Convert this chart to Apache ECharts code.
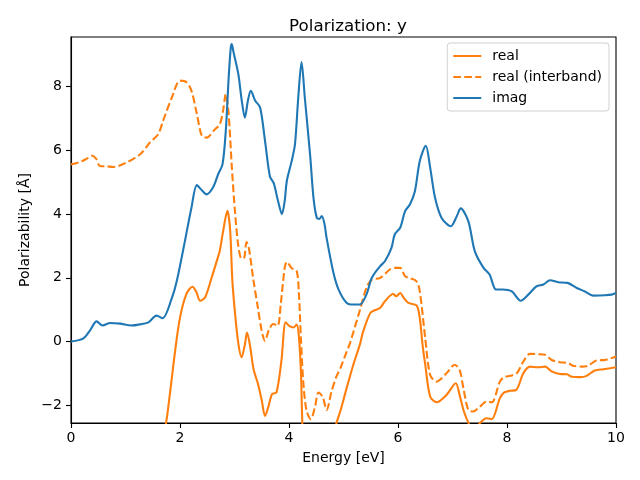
<!DOCTYPE html>
<html>
<head>
<meta charset="utf-8">
<script src="https://cdn.jsdelivr.net/npm/echarts@6/dist/echarts.min.js"></script>
<style>
  html, body { margin: 0; padding: 0; background: #fff; }
  #chart { width: 640px; height: 480px; }
</style>
</head>
<body>
<div id="chart"></div>
<script>
// Polarizacion: y
const realE = [1.55, 1.74, 1.82, 1.91, 2.0, 2.12, 2.23, 2.30, 2.37, 2.46, 2.58, 2.67, 2.73, 2.79, 2.87, 2.92, 2.96,
  3.01, 3.07, 3.13, 3.19, 3.23, 3.28, 3.35, 3.43, 3.50, 3.56, 3.62, 3.69, 3.77, 3.86, 3.94, 4.01, 4.08, 4.14, 4.18,
  4.22, 4.24, 4.28, 4.55, 4.82, 4.87, 4.94, 5.06, 5.18, 5.30, 5.36, 5.49, 5.57, 5.67, 5.76, 5.91, 5.97, 6.04, 6.10,
  6.19, 6.34, 6.40, 6.45, 6.50, 6.59, 6.71, 6.89, 7.06, 7.13, 7.21, 7.31, 7.40, 7.50, 7.63, 7.72, 7.87, 7.95, 8.06,
  8.17, 8.30, 8.42, 8.57, 8.70, 8.82, 8.97, 9.10, 9.19, 9.34, 9.46, 9.61, 9.77, 9.89, 10.0];
const realV = [-4.2, -2.6, -1.57, -0.3, 0.75, 1.5, 1.72, 1.55, 1.28, 1.38, 2.0, 2.5, 2.85, 3.45, 4.1, 3.5, 1.93,
  0.88, -0.06, -0.5, -0.1, 0.28, -0.08, -0.87, -1.33, -1.85, -2.34, -2.06, -1.65, -1.6, -0.62, 0.6, 0.48, 0.44, 0.53, 0.2,
  -1.0, -2.3, -3.8, -4.2, -3.0, -2.57, -2.2, -1.45, -0.73, -0.1, 0.31, 0.89, 0.98, 1.05, 1.26, 1.49, 1.42, 1.52, 1.38,
  1.21, 1.13, 0.73, -0.1, -0.73, -1.73, -1.91, -1.68, -1.31, -1.68, -2.2, -2.62, -2.85, -2.57, -2.41, -2.44, -1.78, -1.6, -1.55,
  -1.52, -1.0, -0.79, -0.81, -0.79, -0.94, -1.02, -1.03, -1.11, -1.12, -1.08, -0.91, -0.87, -0.84, -0.81];

const interE = [0, 0.17, 0.30, 0.38, 0.46, 0.53, 0.65, 0.78, 1.02, 1.27, 1.45, 1.60, 1.69, 1.85, 2.0, 2.12, 2.21,
  2.31, 2.40, 2.49, 2.64, 2.73, 2.79, 2.84, 2.89, 2.95, 3.01, 3.07, 3.13, 3.18, 3.22, 3.26, 3.35, 3.43, 3.50, 3.56,
  3.63, 3.71, 3.79, 3.85, 3.92, 3.96, 4.05, 4.14, 4.18, 4.22, 4.26, 4.32, 4.40, 4.48, 4.54, 4.62, 4.69, 4.78, 4.87,
  4.94, 5.06, 5.12, 5.30, 5.42, 5.52, 5.67, 5.85, 5.94, 6.04, 6.13, 6.22, 6.34, 6.40, 6.50, 6.59, 6.71, 6.89, 7.04,
  7.13, 7.20, 7.29, 7.38, 7.50, 7.57, 7.63, 7.72, 7.87, 7.95, 8.06, 8.18, 8.30, 8.42, 8.57, 8.70, 8.82, 8.97, 9.12,
  9.21, 9.37, 9.49, 9.64, 9.80, 9.92, 10.0];
const interV = [5.56, 5.64, 5.75, 5.83, 5.74, 5.51, 5.5, 5.48, 5.62, 5.88, 6.25, 6.51, 6.93, 7.66, 8.19, 8.14, 7.87,
  7.14, 6.46, 6.4, 6.66, 6.82, 7.24, 7.77, 7.2, 5.5, 4.05, 3.0, 2.6, 2.64, 3.12, 2.97, 1.9, 1.05, 0.33, 0.02,
  0.36, 0.55, 0.49, 1.2, 2.3, 2.5, 2.3, 2.22, 1.55, 0.04, -1.22, -2.16, -2.44, -2.03, -1.6, -1.75, -2.15, -1.57, -1.1,
  -0.85, -0.31, -0.05, 0.98, 1.68, 1.94, 1.99, 2.26, 2.31, 2.31, 2.05, 1.99, 1.89, 1.57, 0.1, -1.05, -1.26, -1.0, -0.73,
  -0.89, -1.47, -2.15, -2.2, -2.05, -1.94, -1.89, -1.91, -1.26, -1.12, -1.08, -1.0, -0.63, -0.39, -0.4, -0.42, -0.58, -0.65, -0.68,
  -0.76, -0.79, -0.76, -0.6, -0.58, -0.52, -0.47];

const imagE = [0, 0.23, 0.35, 0.47, 0.58, 0.72, 0.9, 1.11, 1.3, 1.42, 1.57, 1.68, 1.85, 1.94, 2.09, 2.21, 2.31, 2.4,
  2.49, 2.61, 2.70, 2.78, 2.84, 2.89, 2.93, 2.95, 2.98, 3.07, 3.13, 3.19, 3.25, 3.30, 3.38, 3.47, 3.56, 3.65, 3.72,
  3.80, 3.87, 3.92, 3.96, 4.05, 4.11, 4.17, 4.23, 4.29, 4.39, 4.45, 4.51, 4.56, 4.60, 4.65, 4.69, 4.81, 4.91, 5.06,
  5.18, 5.30, 5.42, 5.52, 5.67, 5.76, 5.88, 5.94, 6.04, 6.13, 6.22, 6.31, 6.40, 6.51, 6.59, 6.68, 6.80, 6.97, 7.08,
  7.15, 7.29, 7.41, 7.57, 7.68, 7.80, 7.92, 8.09, 8.25, 8.39, 8.54, 8.67, 8.79, 8.94, 9.11, 9.28, 9.43, 9.58, 9.80,
  9.92, 10.0];
const imagV = [0.0, 0.1, 0.35, 0.63, 0.5, 0.58, 0.56, 0.5, 0.55, 0.6, 0.81, 0.73, 1.36, 1.89, 3.15, 4.2, 4.91, 4.75,
  4.62, 4.85, 5.25, 5.56, 6.61, 8.19, 9.2, 9.34, 9.1, 8.4, 7.6, 7.03, 7.6, 7.87, 7.56, 7.35, 6.3, 5.18, 4.97,
  4.4, 4.0, 4.4, 5.04, 5.67, 6.2, 7.66, 8.77, 7.66, 5.8, 4.5, 3.88, 3.85, 3.94, 3.7, 3.25, 2.2, 1.63, 1.21,
  1.16, 1.16, 1.47, 2.0, 2.36, 2.52, 2.94, 3.36, 3.57, 4.09, 4.31, 4.72, 5.67, 6.14, 5.46, 4.51, 3.88, 3.62, 3.94,
  4.18, 3.78, 2.83, 2.31, 2.1, 1.63, 1.63, 1.57, 1.28, 1.47, 1.73, 1.79, 1.92, 1.86, 1.84, 1.68, 1.57, 1.44, 1.45,
  1.47, 1.52];

const xTicks = [0, 2, 4, 6, 8, 10];
const yTicks = [-2, 0, 2, 4, 6, 8];

const FONT = 'DejaVu Sans';
const C0 = '#1f77b4', C1 = '#ff7f0e';
const pairs = (xs, ys) => xs.map((x, i) => [x, ys[i]]);
const minus = v => String(v).replace('-', '\u2212');

const chart = echarts.init(document.getElementById('chart'), null, { renderer: 'canvas' });

const axisCommon = {
  axisLine: { show: true, onZero: false, lineStyle: { color: '#000', width: 1.1 } },
  axisTick: { show: true, inside: false, length: 5, lineStyle: { color: '#000', width: 1.1 } },
  splitLine: { show: false },
  nameLocation: 'middle',
  nameMoveOverlap: false,
  nameTextStyle: { color: '#000', fontFamily: FONT, fontSize: 14 },
};

const line = (name, data, color, type) => ({
  name, type: 'line', data, symbol: 'none', smooth: 0.3, clip: true,
  lineStyle: { color, width: 2.1, type }, itemStyle: { color },
});

chart.setOption({
  animation: false,
  backgroundColor: '#fff',
  title: {
    text: 'Polarization: y', left: 343, top: 13, textAlign: 'center',
    textStyle: { fontFamily: FONT, fontSize: 16.7, fontWeight: 'normal', color: '#000' },
  },
  grid: { left: 71, right: 24, top: 37, bottom: 57, show: true, borderColor: '#000', borderWidth: 1.1 },
  legend: {
    orient: 'vertical', right: 31, top: 43, itemWidth: 28, itemHeight: 14, itemGap: 7,
    padding: [6, 7, 6, 5], backgroundColor: 'rgba(255,255,255,0.8)',
    borderColor: '#d0d0d0', borderWidth: 1, borderRadius: 3,
    itemStyle: { opacity: 0, borderWidth: 0 },
    textStyle: { fontFamily: FONT, fontSize: 14, color: '#000', padding: [0, 0, 0, 6] },
    data: ['real', 'real (interband)', 'imag'],
  },
  xAxis: Object.assign({}, axisCommon, {
    type: 'value', min: 0, max: 10, interval: 2,
    name: 'Energy [eV]', nameGap: 28,
    axisLabel: { color: '#000', fontFamily: FONT, fontSize: 14, margin: 8,
      customValues: xTicks, formatter: minus },
    axisTick: Object.assign({}, axisCommon.axisTick, { customValues: xTicks }),
  }),
  yAxis: Object.assign({}, axisCommon, {
    type: 'value', min: -2.56, max: 9.56,
    name: 'Polarizability [Å]', nameGap: 39, nameRotate: 90,
    axisLabel: { color: '#000', fontFamily: FONT, fontSize: 14, margin: 9,
      customValues: yTicks, formatter: minus },
    axisTick: Object.assign({}, axisCommon.axisTick, { customValues: yTicks }),
  }),
  series: [
    line('real', pairs(realE, realV), C1, 'solid'),
    line('real (interband)', pairs(interE, interV), C1, [7.7, 3.3]),
    line('imag', pairs(imagE, imagV), C0, 'solid'),
  ],
});
</script>
</body>
</html>
